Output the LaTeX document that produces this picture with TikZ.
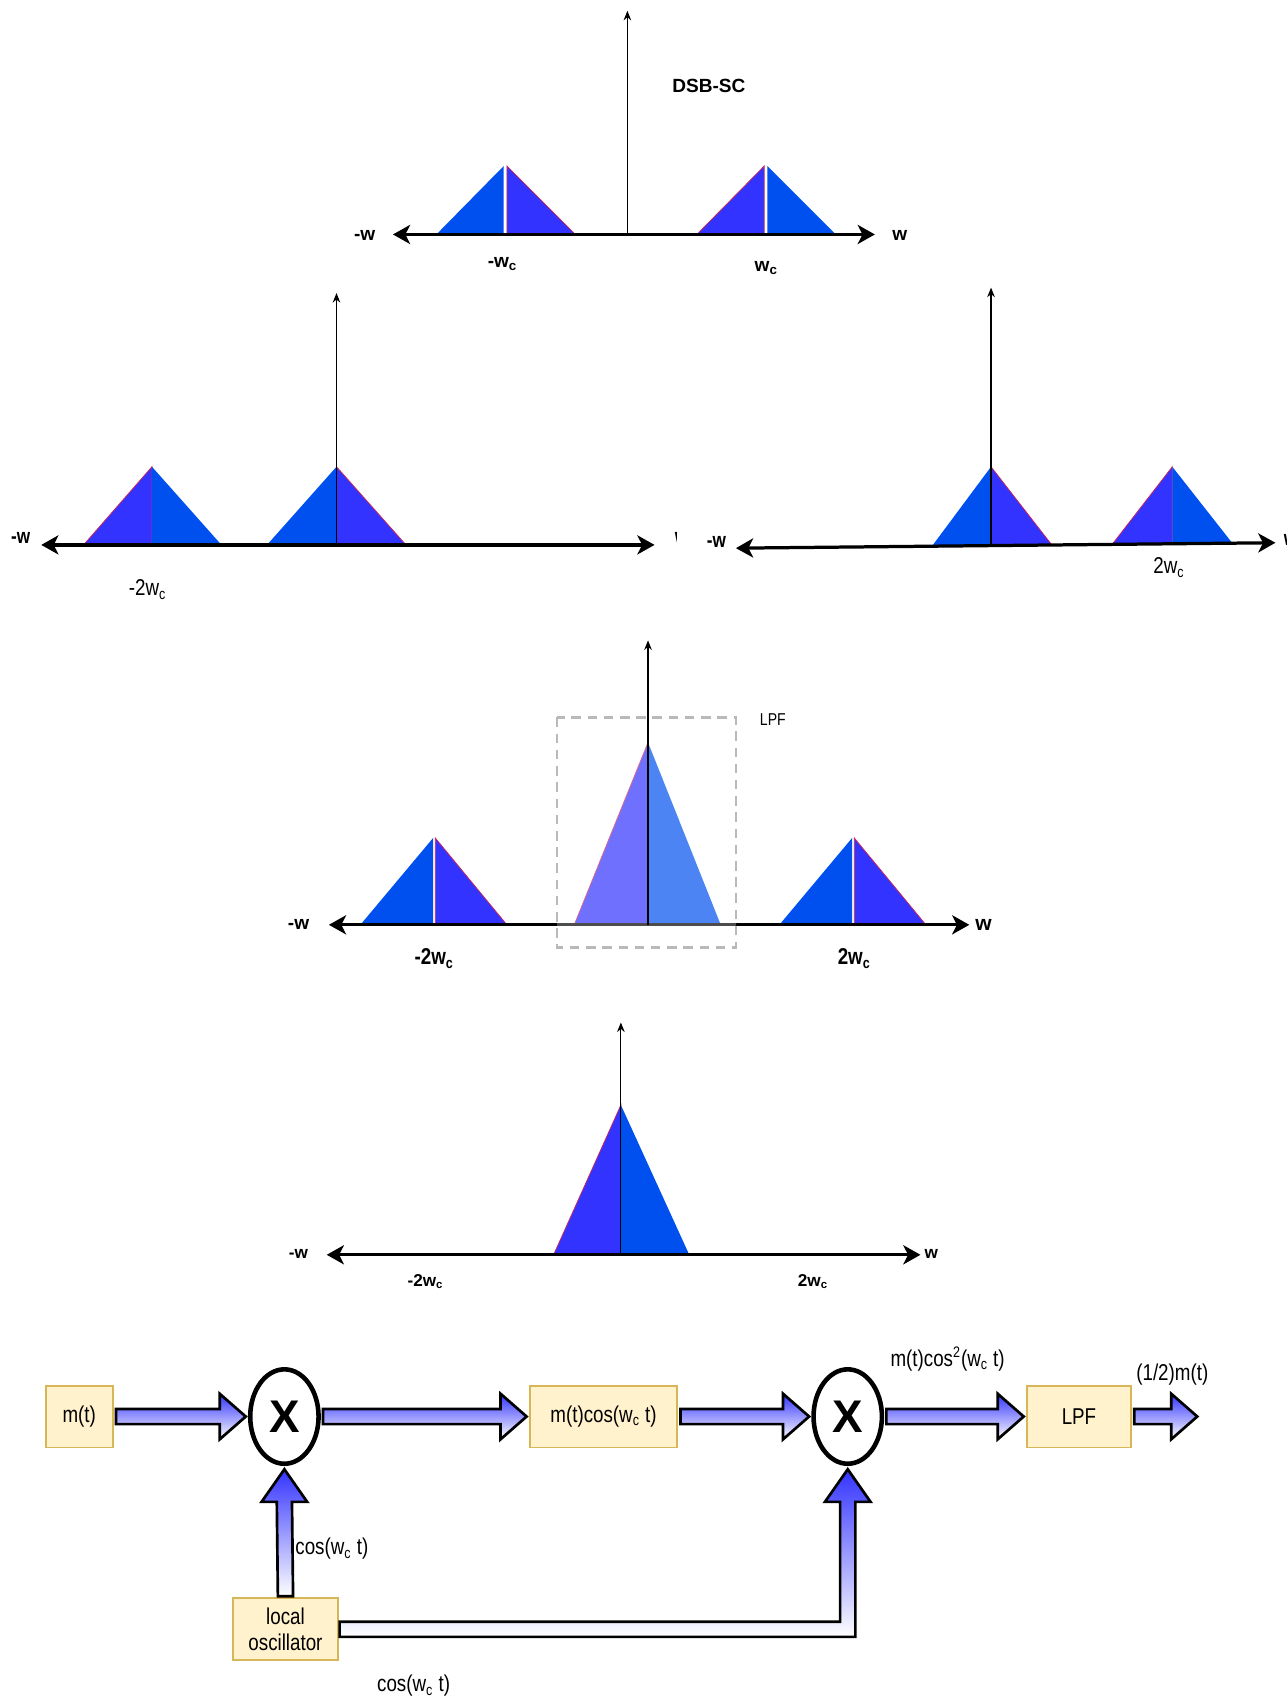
\documentclass[tikz,border=0pt]{standalone}
\usepackage{fontspec}
\setmainfont{Liberation Sans}
\newfontfamily\narrowfont[FakeStretch=0.82]{Liberation Sans}
\usetikzlibrary{positioning, arrows.meta, calc, shapes.geometric}
\definecolor{specblue}{HTML}{0050EF}
\definecolor{specpurple}{HTML}{3333FF}
\definecolor{edgered}{HTML}{C8285A}
\definecolor{boxfill}{HTML}{FFF2CC}
\definecolor{boxdraw}{HTML}{D6B656}
\definecolor{arrtop}{HTML}{3333FF}
\definecolor{arrmid}{HTML}{7F7FFF}

\newcommand{\wc}{w\textsubscript{c}}
% block arrows between two points (right / up)
\newcommand{\flexright}[2]{%
  \draw[flexarr] ($(#1)+(2,-7)$) -- ($(#2)+(-26,-7)$) -- ($(#2)+(-26,-21)$) -- ($(#2)+(-2,0)$)
    -- ($(#2)+(-26,21)$) -- ($(#2)+(-26,7)$) -- ($(#1)+(2,7)$) -- cycle;}
\newcommand{\flexup}[2]{%
  \draw[flexarr] ($(#1)+(-7,-1)$) -- ($(#2)+(-7,33)$) -- ($(#2)+(-21,33)$) -- ($(#2)+(0,3)$)
    -- ($(#2)+(21,33)$) -- ($(#2)+(7,33)$) -- ($(#1)+(7,-1)$) -- cycle;}

\begin{document}
\begin{tikzpicture}[
  x=0.02cm, y=-0.02cm,
  every node/.style={inner sep=1pt},
  axis/.style     = {line width=1.7pt, {Stealth[length=9pt,width=10pt,inset=2.5pt]}-{Stealth[length=9pt,width=10pt,inset=2.5pt]}},
  yaxis/.style    = {line width=0.6pt, -{Stealth[length=5pt,width=4pt]}},
  bluehalf/.style = {fill=specblue},
  purphalf/.style = {fill=specpurple, draw=edgered, line width=0.4pt},
  lpfbox/.style   = {draw=gray!55, line width=1.3pt, dash pattern=on 5pt off 3.5pt, fill=white, fill opacity=0.3},
  lbl/.style      = {font=\bfseries\fontsize{10}{12}\selectfont},
  nlbl/.style     = {font=\narrowfont\fontsize{12}{14}\selectfont},
  nblbl/.style    = {font=\narrowfont\bfseries\fontsize{11}{13}\selectfont},
  blk/.style      = {draw=boxdraw, fill=boxfill, line width=1pt, minimum height=1.14cm, align=center,
                     font=\narrowfont\fontsize{12}{14}\selectfont},
  mixer/.style    = {ellipse, draw, line width=2.4pt, minimum width=1.26cm, minimum height=1.74cm, inner sep=0pt,
                     font=\bfseries\fontsize{24}{24}\selectfont},
  flexarr/.style  = {draw=black, line width=1.4pt, line join=miter, top color=arrtop, middle color=arrmid, bottom color=white},
]
\useasboundingbox (0,0) rectangle (1186,1568);

% DSB-SC spectrum
\fill[bluehalf] (402,216) -- (464,153) -- (464,216) -- cycle;
\filldraw[purphalf] (467,153) -- (530,216) -- (467,216) -- cycle;
\filldraw[purphalf] (642,216) -- (704,153) -- (704,216) -- cycle;
\fill[bluehalf] (707,153) -- (770,216) -- (707,216) -- cycle;
\draw[axis] (362,216) -- (806,216);
\draw[yaxis] (578,216) -- (578,10);
\node[lbl] (wneg1) at (336,217) {-w};
\node[lbl] (wpos1) at (829,217) {w};
\node[lbl] (dsb) at (653,79) {DSB-SC};
\node[lbl] (wcneg1) at (463,243) {-\wc};
\node[lbl] (wcpos1) at (706,247) {\wc};

% shifted to -w_c
\filldraw[purphalf] (77,502) -- (140,430) -- (140,502) -- cycle;
\fill[bluehalf] (140,430) -- (204,502) -- (140,502) -- cycle;
\fill[bluehalf] (246,502) -- (310,430) -- (310,502) -- cycle;
\filldraw[purphalf] (310,430) -- (374,502) -- (310,502) -- cycle;
\draw[axis] (38,502) -- (603,502);
\draw[yaxis] (310,502) -- (310,270);
\node[nblbl] (wneg2) at (19,496) {-w};
\begin{scope}
  \clip (600,480) rectangle (623,515);
  \node[nblbl] (wpos2) at (628,496) {w};
\end{scope}
\node[nlbl] (wcneg2) at (136,543) {-2\wc};

% shifted to +w_c
\fill[bluehalf] (858,504) -- (913,430) -- (913,503) -- cycle;
\filldraw[purphalf] (913,430) -- (969,502) -- (913,503) -- cycle;
\filldraw[purphalf] (1025,501) -- (1080,430) -- (1080,501) -- cycle;
\fill[bluehalf] (1080,430) -- (1135,500) -- (1080,501) -- cycle;
\draw[axis] (678,505) -- (1175,500);
\draw[yaxis] (913,503) -- (913,265);
\node[nblbl] (wneg3) at (660,499) {-w};
\begin{scope}
  \clip (1178,480) rectangle (1185,515);
  \node[nblbl] (wpos3) at (1189,497) {w};
\end{scope}
\node[nlbl] (wcpos3) at (1077,523) {2\wc};

% sum, with low pass window
\fill[bluehalf] (332,852) -- (399,772) -- (399,852) -- cycle;
\filldraw[purphalf] (401,772) -- (467,852) -- (401,852) -- cycle;
\filldraw[purphalf] (529,852) -- (597,684) -- (597,852) -- cycle;
\fill[bluehalf] (597,684) -- (664,852) -- (597,852) -- cycle;
\fill[bluehalf] (718,852) -- (785,772) -- (785,852) -- cycle;
\filldraw[purphalf] (787,772) -- (853,852) -- (787,852) -- cycle;
\draw[axis] (303,852) -- (893,852);
\draw[lpfbox] (513,661) rectangle (678,873);
\draw[yaxis] (597,852) -- (597,590);
\node[lbl] (wneg4) at (275,852) {-w};
\node[lbl, font=\bfseries\fontsize{11}{13}\selectfont] (wpos4) at (906,852) {w};
\node[nblbl, font=\narrowfont\bfseries\fontsize{12}{14}\selectfont] (wcneg4) at (400,883) {-2\wc};
\node[nblbl, font=\narrowfont\bfseries\fontsize{12}{14}\selectfont] (wcpos4) at (787,883) {2\wc};
\node[nlbl, font=\narrowfont\fontsize{9}{11}\selectfont] (lpflbl) at (712,663) {LPF};

% after the LPF
\filldraw[purphalf] (510,1156) -- (572,1018) -- (572,1156) -- cycle;
\fill[bluehalf] (572,1018) -- (635,1156) -- (572,1156) -- cycle;
\draw[axis] (301,1156) -- (848,1156);
\draw[yaxis] (572,1156) -- (572,942);
\node[lbl, font=\bfseries\fontsize{9}{11}\selectfont] (wneg5) at (275,1155) {-w};
\node[lbl, font=\bfseries\fontsize{9}{11}\selectfont] (wpos5) at (858,1155) {w};
\node[lbl, font=\bfseries\fontsize{9}{11}\selectfont] (wcneg5) at (392,1181) {-2\wc};
\node[lbl, font=\bfseries\fontsize{9}{11}\selectfont] (wcpos5) at (749,1181) {2\wc};

% coherent detector
\node[blk, minimum width=1.24cm] (mt)   at (73,1305)  {m(t)};
\node[mixer]                     (mix1) at (262,1305) {X};
\node[blk, minimum width=2.72cm] (mcos) at (556,1305) {m(t)cos(\wc\ t)};
\node[mixer]                     (mix2) at (781,1305) {X};
\node[blk, minimum width=1.92cm] (lpf)  at (994,1305) {LPF};
\node[blk, minimum width=1.92cm] (osc)  at (263,1501) {local\\oscillator};
\coordinate (out) at (1105,1305);
\coordinate (lc) at (mix2.south |- osc.east);

\foreach \s/\t in {mt.east/mix1.west, mix1.east/mcos.west, mcos.east/mix2.west, mix2.east/lpf.west, lpf.east/out}
  \flexright{\s}{\t};
\flexup{osc.north}{mix1.south}
\draw[flexarr] ($(osc.east)+(1,-7)$) -- ($(lc)+(-7,-7)$) -- ($(mix2.south)+(-7,33)$) -- ($(mix2.south)+(-21,33)$)
  -- ($(mix2.south)+(0,3)$) -- ($(mix2.south)+(21,33)$) -- ($(mix2.south)+(7,33)$) -- ($(lc)+(7,7)$)
  -- ($(osc.east)+(1,7)$) -- cycle;

\node[nlbl, anchor=west] (cos1) at (270,1427) {cos(\wc\ t)};
\node[nlbl] (cos2) at (381,1553) {cos(\wc\ t)};
\node[nlbl] (sqlbl) at (873,1252) {m(t)cos\textsuperscript{2}(\wc\ t)};
\node[nlbl] (half) at (1080,1266) {(1/2)m(t)};
\end{tikzpicture}
\end{document}
